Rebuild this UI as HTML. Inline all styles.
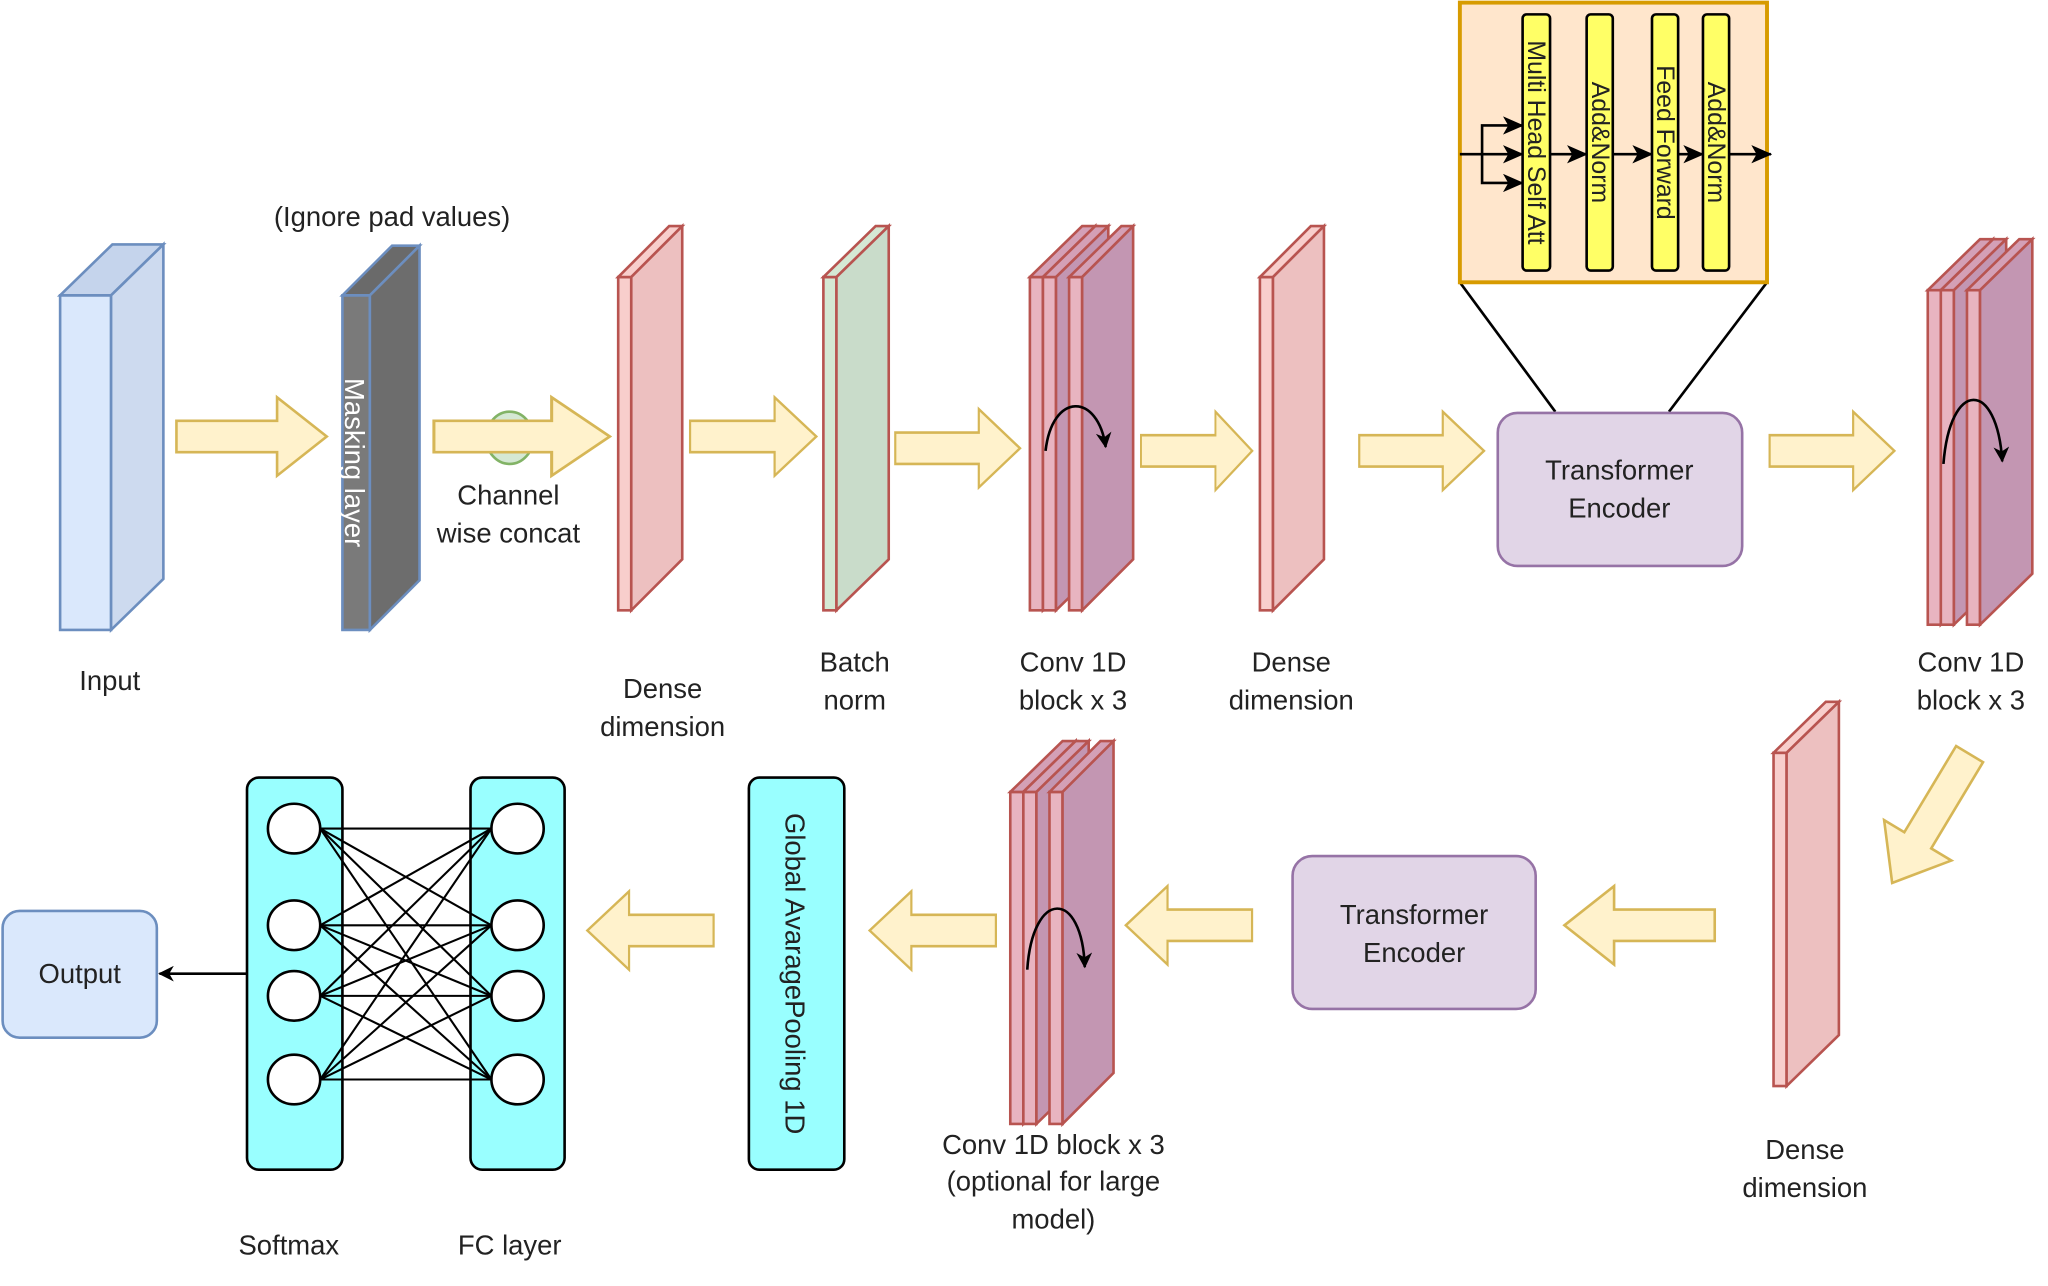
<!DOCTYPE html>
<html><head><meta charset="utf-8"><style>html,body{margin:0;padding:0;background:#fff}svg{display:block}text{font-family:"Liberation Sans",Arial,sans-serif;fill:#222}</style></head><body>
<svg width="2048" height="1286" viewBox="0 0 1567 984" preserveAspectRatio="none" xmlns="http://www.w3.org/2000/svg">
<defs>
<marker id="ah" markerWidth="12" markerHeight="12" refX="11" refY="6" orient="auto" markerUnits="userSpaceOnUse"><path d="M0,0 L12,6 L0,12 L3.5,6 Z" fill="#000"/></marker>
<marker id="ahb" markerWidth="16" markerHeight="14" refX="15" refY="7" orient="auto" markerUnits="userSpaceOnUse"><path d="M0,0 L16,7 L0,14 L4,7 Z" fill="#000"/></marker>
<g id="rarr"><path d="M0,-12 H77 V-30 L115,0 L77,30 V12 H0 Z" fill="#fff2cc" stroke="#d6b656" stroke-width="2"/></g>
</defs>
<rect width="1567" height="984" fill="#fff"/>

<g stroke="#6c8ebf" stroke-width="2">
<rect x="46" y="226" width="39" height="256" fill="#dae8fc"/>
<polygon points="46,226 86,187 125,187 85,226" fill="#c5d4ec"/>
<polygon points="85,226 125,187 125,443 85,482" fill="#cddaef"/>
</g>
<g stroke="#6c8ebf" stroke-width="2">
<rect x="262" y="226" width="21" height="256" fill="#7a7a7a"/>
<polygon points="262,226 300,188 321,188 283,226" fill="#6a6a6a"/>
<polygon points="283,226 321,188 321,444 283,482" fill="#6d6d6d"/>
</g>
<text transform="translate(264,354) rotate(90)" text-anchor="middle" font-size="21" style="fill:#fff">Masking layer</text>

<g stroke="#b85450" stroke-width="2">
<rect x="473" y="212" width="10" height="255" fill="#f8cecc"/>
<polygon points="473,212 512,173 522,173 483,212" fill="#f8cecc"/>
<polygon points="483,212 522,173 522,428 483,467" fill="#edc0c0"/>
<rect x="630" y="212" width="10" height="255" fill="#d5e8d4"/>
<polygon points="630,212 670,173 680,173 640,212" fill="#d5e8d4"/>
<polygon points="640,212 680,173 680,428 640,467" fill="#c9dcca"/>
<rect x="788" y="212" width="10" height="255" fill="#e8b4c0"/>
<polygon points="788,212 828,173 838,173 798,212" fill="#d4a0b6"/>
<polygon points="798,212 838,173 838,428 798,467" fill="#c396b2"/>
<rect x="798" y="212" width="10" height="255" fill="#e8b4c0"/>
<polygon points="798,212 838,173 848,173 808,212" fill="#d4a0b6"/>
<polygon points="808,212 848,173 848,428 808,467" fill="#c396b2"/>
<rect x="818" y="212" width="10" height="255" fill="#e8b4c0"/>
<polygon points="818,212 858,173 867,173 828,212" fill="#d4a0b6"/>
<polygon points="828,212 867,173 867,428 828,467" fill="#c396b2"/>
<rect x="964" y="212" width="10" height="255" fill="#f8cecc"/>
<polygon points="964,212 1003,173 1013,173 974,212" fill="#f8cecc"/>
<polygon points="974,212 1013,173 1013,428 974,467" fill="#edc0c0"/>
<rect x="1475" y="222" width="10" height="256" fill="#e8b4c0"/>
<polygon points="1475,222 1515,183 1525,183 1485,222" fill="#d4a0b6"/>
<polygon points="1485,222 1525,183 1525,439 1485,478" fill="#c396b2"/>
<rect x="1485" y="222" width="10" height="256" fill="#e8b4c0"/>
<polygon points="1485,222 1525,183 1535,183 1495,222" fill="#d4a0b6"/>
<polygon points="1495,222 1535,183 1535,439 1495,478" fill="#c396b2"/>
<rect x="1505" y="222" width="10" height="256" fill="#e8b4c0"/>
<polygon points="1505,222 1545,183 1555,183 1515,222" fill="#d4a0b6"/>
<polygon points="1515,222 1555,183 1555,439 1515,478" fill="#c396b2"/>
<rect x="1357" y="576" width="10" height="255" fill="#f8cecc"/>
<polygon points="1357,576 1397,537 1407,537 1367,576" fill="#f8cecc"/>
<polygon points="1367,576 1407,537 1407,792 1367,831" fill="#edc0c0"/>
<rect x="773" y="606" width="10" height="254" fill="#e8b4c0"/>
<polygon points="773,606 813,567 823,567 783,606" fill="#d4a0b6"/>
<polygon points="783,606 823,567 823,821 783,860" fill="#c396b2"/>
<rect x="783" y="606" width="10" height="254" fill="#e8b4c0"/>
<polygon points="783,606 823,567 833,567 793,606" fill="#d4a0b6"/>
<polygon points="793,606 833,567 833,821 793,860" fill="#c396b2"/>
<rect x="803" y="606" width="10" height="254" fill="#e8b4c0"/>
<polygon points="803,606 842,567 852,567 813,606" fill="#d4a0b6"/>
<polygon points="813,606 852,567 852,821 813,860" fill="#c396b2"/>
</g>
<g fill="none" stroke="#000" stroke-width="2" marker-end="url(#ah)">
<path d="M800,345 C805,300 840,300 846,342"/>
<path d="M1487,355 C1492,290 1528,290 1532,353"/>
<path d="M786,742 C790,680 828,680 830,740"/>
</g>

<ellipse cx="390" cy="335" rx="18" ry="20" fill="#d5e8d4" stroke="#82b366" stroke-width="2"/>

<use href="#rarr" transform="translate(135,334)"/>
<use href="#rarr" transform="translate(332,334) scale(1.17,1)"/>
<use href="#rarr" transform="translate(528,334) scale(0.84,1)"/>
<use href="#rarr" transform="translate(685,343) scale(0.83,1)"/>
<use href="#rarr" transform="translate(873,345) scale(0.74,1)"/>
<use href="#rarr" transform="translate(1040,345) scale(0.83,1)"/>
<use href="#rarr" transform="translate(1354,345) scale(0.83,1)"/>
<use href="#rarr" transform="translate(1312,708) scale(-1,1)"/>
<use href="#rarr" transform="translate(958,708) scale(-0.84,1)"/>
<use href="#rarr" transform="translate(762,712) scale(-0.84,1)"/>
<use href="#rarr" transform="translate(546,712) scale(-0.84,1)"/>
<use href="#rarr" transform="translate(1507,577) rotate(121)"/>

<line x1="1117" y1="216" x2="1190" y2="315" stroke="#000" stroke-width="2"/>
<line x1="1352" y1="216" x2="1277" y2="315" stroke="#000" stroke-width="2"/>
<rect x="1117" y="2" width="235" height="214" fill="#ffe6cc" stroke="#d79b00" stroke-width="3"/>
<g fill="#ffff66" stroke="#000" stroke-width="2">
<rect x="1165" y="11" width="21" height="196" rx="3"/>
<rect x="1214" y="11" width="20" height="196" rx="3"/>
<rect x="1264" y="11" width="20" height="196" rx="3"/>
<rect x="1303" y="11" width="20" height="196" rx="3"/>
</g>
<g font-size="19">
<text transform="translate(1169,109) rotate(90)" text-anchor="middle">Multi Head Self Att</text>
<text transform="translate(1218,109) rotate(90)" text-anchor="middle">Add&amp;Norm</text>
<text transform="translate(1268,109) rotate(90)" text-anchor="middle">Feed Forward</text>
<text transform="translate(1307,109) rotate(90)" text-anchor="middle">Add&amp;Norm</text>
</g>
<g fill="none" stroke="#000" stroke-width="2" marker-end="url(#ahb)">
<line x1="1117" y1="118" x2="1165" y2="118"/>
<path d="M1134,118 V96 H1165"/>
<path d="M1134,118 V140 H1165"/>
<line x1="1186" y1="118" x2="1214" y2="118"/>
<line x1="1234" y1="118" x2="1264" y2="118"/>
<line x1="1284" y1="118" x2="1303" y2="118"/>
<line x1="1323" y1="118" x2="1355" y2="118"/>
</g>

<rect x="1146" y="316" width="187" height="117" rx="15" fill="#e1d5e7" stroke="#9673a6" stroke-width="2"/>
<text x="1239" y="367" font-size="21" text-anchor="middle">Transformer</text>
<text x="1239" y="396" font-size="21" text-anchor="middle">Encoder</text>
<rect x="989" y="655" width="186" height="117" rx="15" fill="#e1d5e7" stroke="#9673a6" stroke-width="2"/>
<text x="1082" y="707" font-size="21" text-anchor="middle">Transformer</text>
<text x="1082" y="736" font-size="21" text-anchor="middle">Encoder</text>

<rect x="573" y="595" width="73" height="300" rx="8" fill="#99ffff" stroke="#000" stroke-width="2"/>
<text transform="translate(601,745) rotate(90)" text-anchor="middle" font-size="21">Global AvaragePooling 1D</text>

<rect x="189" y="595" width="73" height="300" rx="9" fill="#99ffff" stroke="#000" stroke-width="2"/>
<rect x="360" y="595" width="72" height="300" rx="9" fill="#99ffff" stroke="#000" stroke-width="2"/>
<g stroke="#000" stroke-width="1.6">
<line x1="245" y1="634" x2="376" y2="634"/><line x1="245" y1="634" x2="376" y2="708"/><line x1="245" y1="634" x2="376" y2="762"/><line x1="245" y1="634" x2="376" y2="826"/>
<line x1="245" y1="708" x2="376" y2="634"/><line x1="245" y1="708" x2="376" y2="708"/><line x1="245" y1="708" x2="376" y2="762"/><line x1="245" y1="708" x2="376" y2="826"/>
<line x1="245" y1="762" x2="376" y2="634"/><line x1="245" y1="762" x2="376" y2="708"/><line x1="245" y1="762" x2="376" y2="762"/><line x1="245" y1="762" x2="376" y2="826"/>
<line x1="245" y1="826" x2="376" y2="634"/><line x1="245" y1="826" x2="376" y2="708"/><line x1="245" y1="826" x2="376" y2="762"/><line x1="245" y1="826" x2="376" y2="826"/>
</g>
<g fill="#fff" stroke="#000" stroke-width="2">
<ellipse cx="225" cy="634" rx="20" ry="19"/><ellipse cx="225" cy="708" rx="20" ry="19"/><ellipse cx="225" cy="762" rx="20" ry="19"/><ellipse cx="225" cy="826" rx="20" ry="19"/>
<ellipse cx="396" cy="634" rx="20" ry="19"/><ellipse cx="396" cy="708" rx="20" ry="19"/><ellipse cx="396" cy="762" rx="20" ry="19"/><ellipse cx="396" cy="826" rx="20" ry="19"/>
</g>

<rect x="2" y="697" width="118" height="97" rx="13" fill="#dae8fc" stroke="#6c8ebf" stroke-width="2"/>
<text x="61" y="752" font-size="21" text-anchor="middle">Output</text>
<line x1="189" y1="745" x2="122" y2="745" stroke="#000" stroke-width="2" marker-end="url(#ah)"/>

<g font-size="21" text-anchor="middle">
<text x="300" y="173">(Ignore pad values)</text>
<text x="389" y="386">Channel</text><text x="389" y="415">wise concat</text>
<text x="84" y="528">Input</text>
<text x="507" y="534">Dense</text><text x="507" y="563">dimension</text>
<text x="654" y="514">Batch</text><text x="654" y="543">norm</text>
<text x="821" y="514">Conv 1D</text><text x="821" y="543">block x 3</text>
<text x="988" y="514">Dense</text><text x="988" y="543">dimension</text>
<text x="1508" y="514">Conv 1D</text><text x="1508" y="543">block x 3</text>
<text x="1381" y="887">Dense</text><text x="1381" y="916">dimension</text>
<text x="806" y="883">Conv 1D block x 3</text><text x="806" y="911">(optional for large</text><text x="806" y="940">model)</text>
<text x="221" y="960">Softmax</text>
<text x="390" y="960">FC layer</text>
</g>
</svg>
</body></html>
